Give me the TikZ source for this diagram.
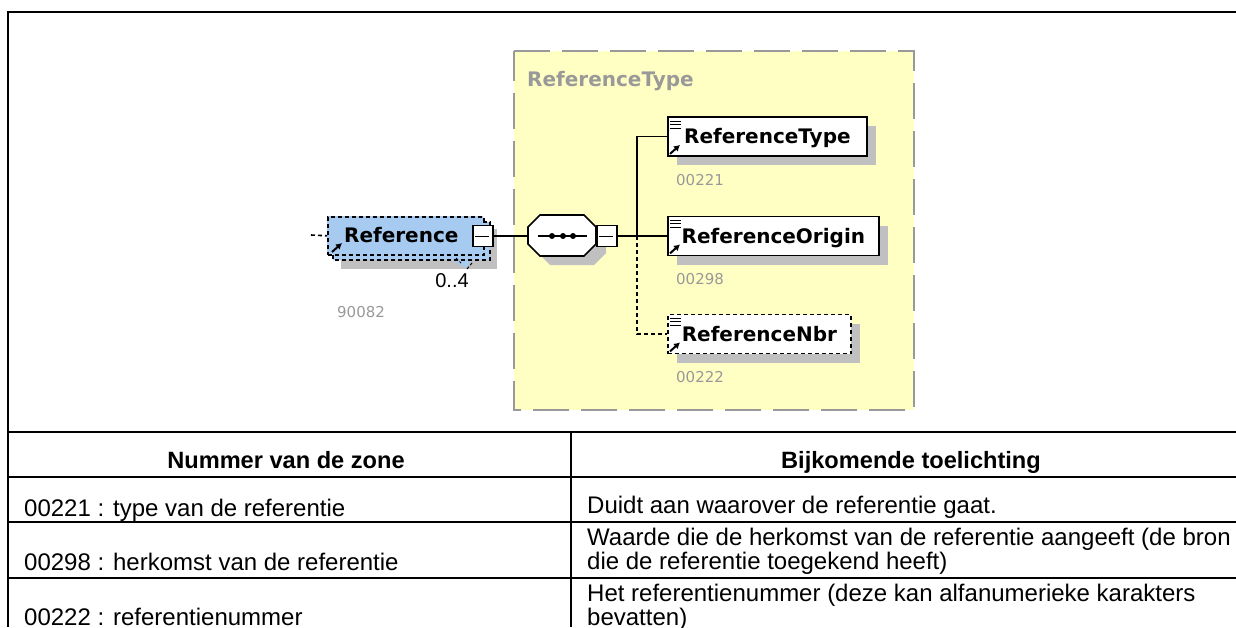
\documentclass[tikz,border=0pt]{standalone}
\usepackage{fontspec}
\setmainfont{Liberation Sans}
\newfontfamily\xsdfont{DejaVu Sans}
\usetikzlibrary{arrows.meta,shadows}
\definecolor{xsdyellow}{HTML}{FFFFC4}
\definecolor{xsdblue}{HTML}{A6CAF0}
\definecolor{xsdgrey}{HTML}{999999}
\definecolor{xsdshadow}{HTML}{C0C0C0}
\tikzset{
  xsdtext/.style={text height=18pt,text depth=4pt,font=\xsdfont\fontsize{20}{20}\selectfont\bfseries},
  xsdbox/.style={draw,line width=1.8pt,fill=white,anchor=west,minimum height=39pt,inner sep=0pt,xsdtext,
    drop shadow={shadow xshift=9pt,shadow yshift=-9pt,fill=xsdshadow,opacity=1}},
  optbox/.style={xsdbox,dash pattern=on 4pt off 3pt},
  minusbox/.style={draw,line width=1.5pt,fill=white,minimum width=20pt,minimum height=21pt,inner sep=0pt},
  seqline/.style={line width=1.6pt},
  dashline/.style={line width=1.6pt,dash pattern=on 4pt off 3pt},
  idlabel/.style={text=xsdgrey,anchor=west,inner sep=0pt,font=\xsdfont\fontsize{15}{15}\selectfont},
  tablehead/.style={inner sep=0pt,anchor=base,font=\fontsize{23.6}{24}\selectfont\bfseries},
  tabletext/.style={inner sep=0pt,anchor=base west,font=\fontsize{24}{24}\selectfont},
  tableline/.style={line width=1.8pt},
  markarrow/.style={-{Latex[length=6pt,width=7pt]},line width=2pt},
  markline/.style={line width=1pt}
}
% three lines at the top, arrow at the bottom of a box
\newcommand{\xsdmarks}[1]{
  \draw[markline] ([shift={(3,5)}]#1.north west) -- +(11,0) ([shift={(3,8)}]#1.north west) -- +(11,0) ([shift={(3,12)}]#1.north west) -- +(11,0);
  \draw[markarrow] ([shift={(3,-3)}]#1.south west) -- +(10,-9);
}
\begin{document}
\begin{tikzpicture}[x=1pt,y=-1pt]
  \useasboundingbox (0,0) rectangle (1236,627);
  % frame and table
  \draw[tableline] (1236,12) -- (8,12) -- (8,627);
  \draw[tableline] (8,432) -- (1236,432);
  \draw[tableline] (8,477) -- (1236,477);
  \draw[tableline] (8,522) -- (1236,522);
  \draw[tableline] (8,578) -- (1236,578);
  \draw[tableline] (571,432) -- (571,627);
  \node[tablehead] (zonehead) at (286,468) {Nummer van de zone};
  \node[tablehead] (notehead) at (911,468) {Bijkomende toelichting};
  \node[tabletext] (zone1) at (24,516) {00221 : type van de referentie};
  \node[tabletext] (zone2) at (24,570) {00298 : herkomst van de referentie};
  \node[tabletext] (zone3) at (24,625) {00222 : referentienummer};
  \node[tabletext] (note1) at (587,513) {Duidt aan waarover de referentie gaat.};
  \node[tabletext] (note2a) at (587,545) {Waarde die de herkomst van de referentie aangeeft (de bron};
  \node[tabletext] (note2b) at (587,569) {die de referentie toegekend heeft)};
  \node[tabletext] (note3a) at (587,601) {Het referentienummer (deze kan alfanumerieke karakters};
  \node[tabletext] (note3b) at (587,625) {bevatten)};
  % yellow group
  \fill[xsdyellow] (514,51) rectangle (914,410);
  \draw[xsdgrey,line width=1.6pt,dash pattern=on 36pt off 12pt] (514,51) -- (914,51) -- (914,410) -- (514,410) -- cycle;
  \node[anchor=west,inner sep=0pt,text=xsdgrey,xsdtext] (grouptitle) at (527,79) {ReferenceType};
  % stacked reference box
  \coordinate (refin) at (311,235);
  \fill[xsdshadow] (341,229) -- (497,229) -- (497,269) -- (341,269) -- cycle;
  \fill[xsdblue] (327,216) -- (483,216) -- (483,222) -- (490,222) -- (490,260) -- (333,260) -- (333,254) -- (327,254) -- cycle;
  \fill[xsdblue] (453,260) -- (466,268) -- (472,260) -- cycle;
  \node[draw,dash pattern=on 4pt off 3pt,line width=1.6pt,minimum width=156pt,minimum height=38pt,anchor=north west,inner sep=0pt,
    xsdtext] (reference) at (327,216) {\hspace*{-9pt}Reference};
  \draw[dashline] (483,222) -- (490,222) -- (490,260) -- (333,260) -- (333,254);
  \draw[line width=1pt,dash pattern=on 3pt off 2pt] (456,258) -- (461,263) (467,269) -- (472,263);
  \draw[dashline] (refin) -- (reference.west);
  \draw[markarrow] (332,252) -- (342,243);
  \node[minusbox] (refminus) at (483,236) {};
  \draw[line width=1pt] (refminus.west) ++(3,0) -- ++(14,0);
  \node[inner sep=0pt,font=\fontsize{20}{20}\selectfont] (refcount) at (452,281) {0..4};
  \node[idlabel] (refid) at (337,312) {90082};
  % sequence
  \fill[xsdshadow] (550,224) -- (594,224) -- (606,236) -- (606,253) -- (594,265) -- (550,265) -- (538,253) -- cycle;
  \draw[seqline,fill=white] (540,215) -- (584,215) -- (596,227) -- (596,244) -- (584,256) -- (540,256) -- (528,244) -- (528,227) -- cycle;
  \coordinate (seqin) at (528,236);
  \node[minusbox] (seqminus) at (607,236) {};
  \draw[line width=1pt] (seqminus.west) ++(3,0) -- ++(14,0);
  \draw[line width=1.2pt] (538,236) -- (587,236);
  \foreach \dotx in {552,563,573}
    \fill (\dotx,236) circle (3pt);
  \draw[seqline] (refminus) -- (seqin);
  % children
  \node[xsdbox,minimum width=199pt] (reftype) at (667,136.5) {ReferenceType};
  \node[xsdbox,minimum width=211pt] (reforigin) at (667,236) {ReferenceOrigin};
  \node[optbox,minimum width=183pt] (refnbr) at (667,334) {ReferenceNbr};
  \xsdmarks{reftype}
  \xsdmarks{reforigin}
  \xsdmarks{refnbr}
  \node[idlabel] (typeid) at (676,180) {00221};
  \node[idlabel] (originid) at (676,279) {00298};
  \node[idlabel] (nbrid) at (676,377) {00222};
  \coordinate (trunk) at (637,236);
  \draw[seqline] (seqminus.east) -- (reforigin.west);
  \draw[seqline] (trunk) |- (reftype.west);
  \draw[dashline] (trunk) |- (refnbr.west);
\end{tikzpicture}
\end{document}
